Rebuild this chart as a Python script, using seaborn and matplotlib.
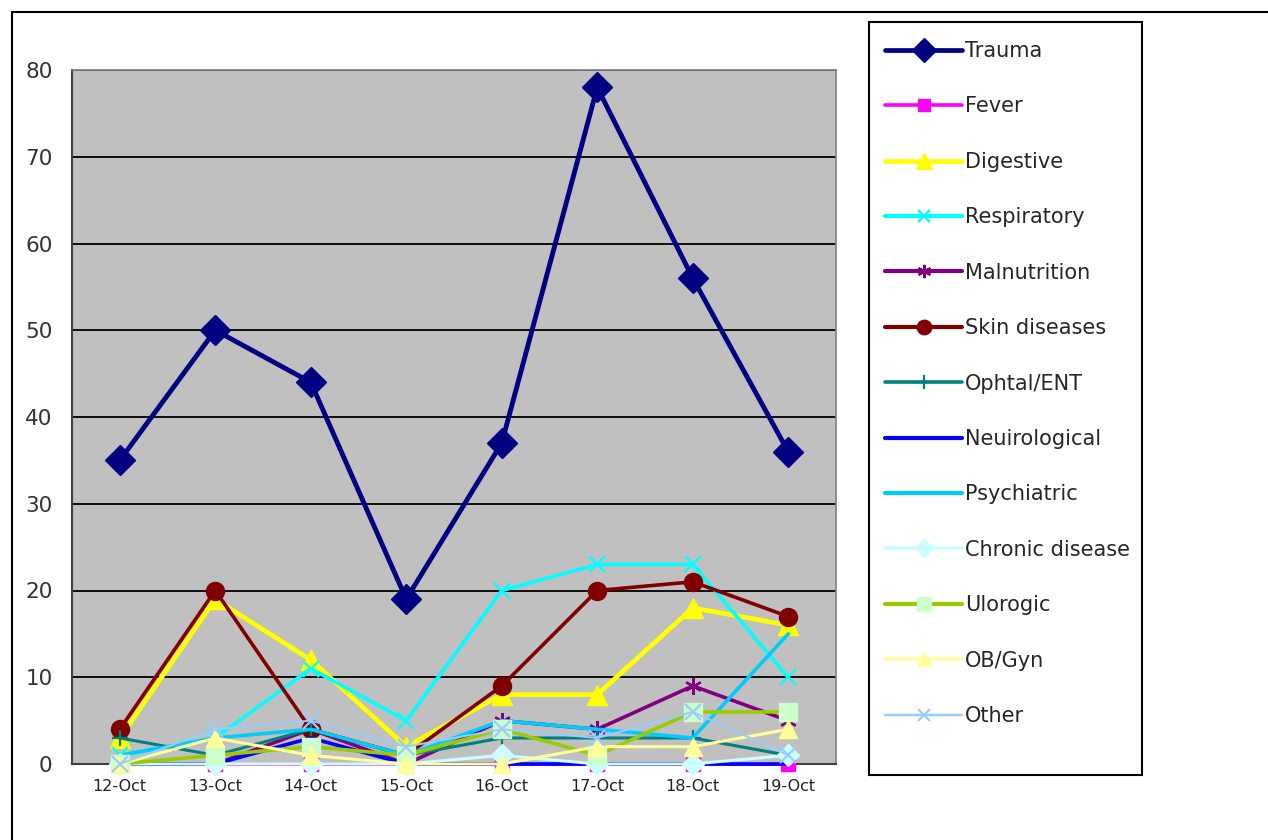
import matplotlib
matplotlib.use("Agg")
import matplotlib.pyplot as plt
from matplotlib.lines import Line2D
from matplotlib.patches import Rectangle
import seaborn as sns
import pandas as pd

days = ["12-Oct", "13-Oct", "14-Oct", "15-Oct", "16-Oct", "17-Oct", "18-Oct", "19-Oct"]

trauma = [35, 50, 44, 19, 37, 78, 56, 36]
fever = [0, 0, 0, 0, 0, 0, 0, 0]
digestive = [3, 19, 12, 2, 8, 8, 18, 16]
respiratory = [1, 3, 11, 5, 20, 23, 23, 10]
malnutrition = [0, 0, 4, 0, 5, 4, 9, 5]
skin_diseases = [4, 20, 4, 1, 9, 20, 21, 17]
ophtal_ent = [3, 1, 4, 1, 3, 3, 3, 1]
neurological = [0, 0, 3, 0, 0, 0, 0, 0]
psychiatric = [1, 3, 4, 1, 5, 4, 3, 15]
chronic = [0, 0, 0, 0, 1, 0, 0, 1]
ulorogic = [0, 1, 2, 1, 4, 1, 6, 6]
ob_gyn = [0, 3, 1, 0, 0, 2, 2, 4]
other = [0, 4, 5, 2, 4, 3, 6, 1]

y_ticks = [0, 10, 20, 30, 40, 50, 60, 70, 80]

series = [
    ("Trauma", trauma),
    ("Fever", fever),
    ("Digestive", digestive),
    ("Respiratory", respiratory),
    ("Malnutrition", malnutrition),
    ("Skin diseases", skin_diseases),
    ("Ophtal/ENT", ophtal_ent),
    ("Neuirological", neurological),
    ("Psychiatric", psychiatric),
    ("Chronic disease", chronic),
    ("Ulorogic", ulorogic),
    ("OB/Gyn", ob_gyn),
    ("Other", other),
]

# line colour, marker, marker face, marker size, line width
styles = {
    "Trauma": ("#000080", "D", "#000080", 15, 3.5),
    "Fever": ("#FF00FF", "s", "#FF00FF", 10, 2.2),
    "Digestive": ("#FFFF00", "^", "#FFFF00", 14, 3.4),
    "Respiratory": ("#00FFFF", "x", "#00FFFF", 11, 2.6),
    "Malnutrition": ("#800080", (6, 2, 0), "#800080", 12, 2.6),
    "Skin diseases": ("#800000", "o", "#800000", 13, 2.6),
    "Ophtal/ENT": ("#008080", "+", "#008080", 12, 2.2),
    "Neuirological": ("#0000FF", None, "#0000FF", 0, 2.6),
    "Psychiatric": ("#00CCFF", None, "#00CCFF", 0, 2.6),
    "Chronic disease": ("#CCFFFF", "D", "#CCFFFF", 11, 2.2),
    "Ulorogic": ("#99CC00", "s", "#CCFFCC", 13, 2.6),
    "OB/Gyn": ("#FFFF99", "^", "#FFFF99", 13, 2.2),
    "Other": ("#99CCFF", "x", "#99CCFF", 11, 1.4),
}

sns.set_theme(style="white")
plt.rcParams["font.family"] = ["DejaVu Sans"]

W, H = 1268, 840
fig = plt.figure(figsize=(W / 100, H / 100), dpi=100)
ax = fig.add_axes([72 / W, 1 - 764 / H, (836 - 72) / W, (764 - 70) / H])
ax.set_facecolor("#C0C0C0")

x_idx = list(range(len(days)))
handles = []
for name, vals in series:
    col, mk, face, ms, lw = styles[name]
    df = pd.DataFrame({"x": x_idx, "y": vals})
    mew = 1.6 if mk in ("x", "+", (6, 2, 0)) else 1.0
    kw = dict(marker=mk, markersize=ms, markerfacecolor=face, markeredgecolor=face,
              markeredgewidth=mew) if mk else {}
    sns.lineplot(data=df, x="x", y="y", ax=ax, color=col, linewidth=lw,
                 clip_on=False, zorder=3, legend=False, **kw)
    handles.append(Line2D([0], [0], color=col, linewidth=min(lw, 3.0) + 0.4,
                          marker=mk if mk else None, markersize=ms * 0.8 if mk else 0,
                          markerfacecolor=face, markeredgecolor=face,
                          markeredgewidth=mew))

ax.set_xlim(-0.5, len(days) - 0.5)
ax.set_ylim(0, 80)
ax.set_yticks(y_ticks)
ax.set_yticklabels([str(t) for t in y_ticks], fontsize=15.5, color="#333333")
ax.set_xticks(x_idx)
ax.set_xticklabels(days, fontsize=11.5, color="#222222")
ax.set_xlabel("")
ax.set_ylabel("")
ax.yaxis.grid(True, color="black", linewidth=1.3)
ax.xaxis.grid(False)
ax.set_axisbelow(True)
ax.tick_params(axis="y", pad=14, length=0)
ax.tick_params(axis="x", pad=11, length=0)
for side in ("top", "right"):
    ax.spines[side].set_color("#808080")
    ax.spines[side].set_linewidth(1.2)
for side in ("left", "bottom"):
    ax.spines[side].set_color("#404040")
    ax.spines[side].set_linewidth(1.5)

# legend box
fig.add_artist(Rectangle((869 / W, 1 - 775 / H), (1142 - 869) / W, (775 - 22) / H,
                         transform=fig.transFigure, facecolor="white",
                         edgecolor="black", linewidth=1.5, zorder=1))
leg = fig.legend(handles, [n for n, _ in series], loc="upper left",
                 bbox_to_anchor=(885 / W, 1 - 41 / H), fontsize=15,
                 frameon=False, handlelength=3.7, handletextpad=0.15,
                 labelspacing=1.70, borderpad=0, borderaxespad=0)
leg.set_zorder(2)

# outer chart border (top and left edges)
fig.add_artist(Line2D([12 / W, 1], [1 - 12 / H, 1 - 12 / H], color="black",
                      linewidth=1.5, transform=fig.transFigure))
fig.add_artist(Line2D([12 / W, 12 / W], [0, 1 - 12 / H], color="black",
                      linewidth=1.5, transform=fig.transFigure))

fig.savefig("out.png", dpi=100, facecolor="white")
